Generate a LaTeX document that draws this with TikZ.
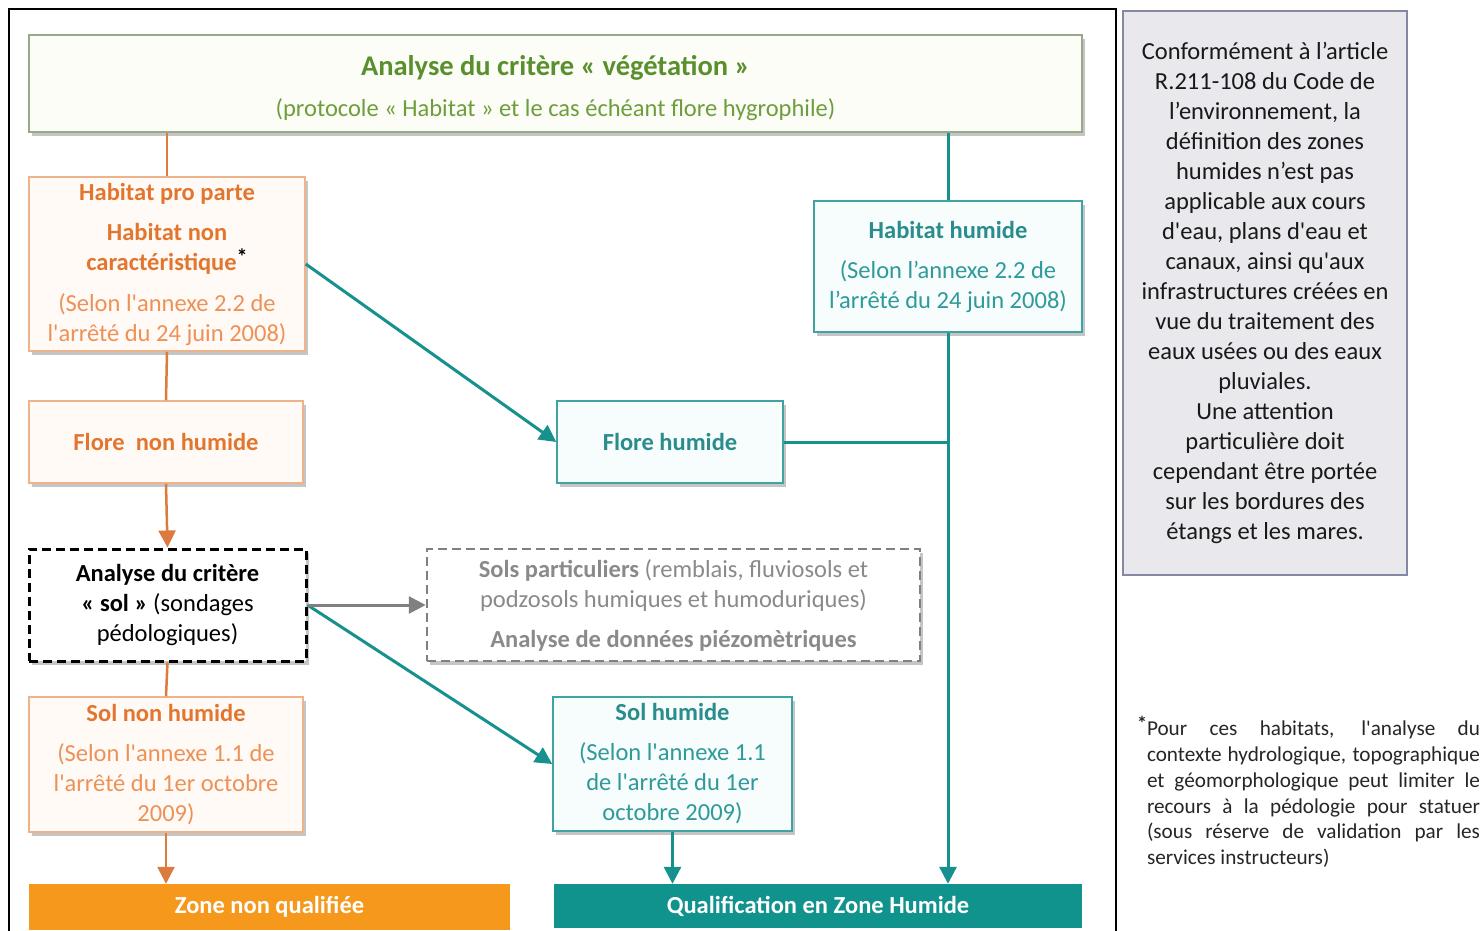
\documentclass[tikz,border=0pt]{standalone}
\usepackage{fontspec}
\setmainfont{Carlito}
\usetikzlibrary{arrows.meta,shadows}
\definecolor{vegD}{HTML}{5A8F2E}
\definecolor{vegL}{HTML}{6E9E3C}
\definecolor{vegB}{HTML}{9AA88A}
\definecolor{vegF}{HTML}{FBFDF6}
\definecolor{oText}{HTML}{E2762F}
\definecolor{oLight}{HTML}{EE9157}
\definecolor{oBorder}{HTML}{EDB48C}
\definecolor{oFill}{HTML}{FFFAF6}
\definecolor{oLine}{HTML}{DD7A3E}
\definecolor{zoneO}{HTML}{F5981C}
\definecolor{tText}{HTML}{2A8C8C}
\definecolor{tLight}{HTML}{2E9A9A}
\definecolor{tBorder}{HTML}{3FA3A3}
\definecolor{tFill}{HTML}{F7FCFC}
\definecolor{tLine}{HTML}{16918E}
\definecolor{qualT}{HTML}{10928D}
\definecolor{gText}{HTML}{8A8A8A}
\definecolor{gLine}{HTML}{808080}
\definecolor{noteF}{HTML}{E9E8EC}
\definecolor{noteB}{HTML}{8488A4}
\newcommand{\sq}{\textquotesingle}
\newcommand{\bigast}{\raisebox{6pt}{\fontsize{22}{22}\selectfont\bfseries\color{black}*}}
\tikzset{
  basebox/.style={rectangle, inner sep=0pt, align=center,
    font=\fontsize{24.5}{30}\selectfont,
    drop shadow={shadow xshift=2.5pt, shadow yshift=-3.5pt, opacity=0.45}},
  vegbox/.style={basebox, draw=vegB, line width=1.5pt, fill=vegF},
  obox/.style={basebox, draw=oBorder, line width=1.5pt, fill=oFill, text=oText},
  tbox/.style={basebox, draw=tBorder, line width=1.5pt, fill=tFill, text=tText},
  solbox/.style={basebox, draw=black, line width=3pt, dash pattern=on 9pt off 5pt, fill=white, text=black},
  partbox/.style={basebox, draw=gLine, line width=2.5pt, dash pattern=on 9pt off 5pt, fill=white, text=gText},
  bar/.style={rectangle, inner sep=0pt, text=white, font=\fontsize{24.5}{30}\selectfont\bfseries},
  oline/.style={draw=oLine, line width=2.5pt},
  tline/.style={draw=tLine, line width=3pt},
  gline/.style={draw=gLine, line width=3pt},
  tip/.style={-{Triangle[length=17pt,width=17pt]}}
}
\begin{document}
\begin{tikzpicture}[x=1pt,y=-1pt]
\useasboundingbox (0,0) rectangle (1484,930);
\fill[white] (0,0) rectangle (1484,930);
\draw[line width=2pt] (9,932) -- (9,9) -- (1116,9) -- (1116,932);

% top box
\node[vegbox, minimum width=1053pt, minimum height=97pt] (veg) at (555.5,83.5)
  {{\fontsize{28.5}{32}\selectfont\bfseries\color{vegD}\rule{0pt}{29pt}Analyse du critère « végétation »}\\[11pt]{\color{vegL}(protocole « Habitat » et le cas échéant flore hygrophile)}};

% left column
\node[obox, minimum width=276pt, minimum height=174pt] (hpp) at (167,264)
  {{\bfseries Habitat pro parte}\\[10pt]{\bfseries Habitat non}\\{\bfseries caractéristique}\bigast\\[11pt]{\color{oLight}(Selon l\sq annexe 2.2 de}\\{\color{oLight}l\sq arrêté du 24 juin 2008)}};
\node[obox, minimum width=274pt, minimum height=82pt] (fnh) at (166,442)
  {\bfseries Flore\ \ non humide};
\node[solbox, minimum width=277pt, minimum height=112pt] (sol) at (167.5,605)
  {{\bfseries Analyse du critère}\\{\bfseries « sol »} (sondages\\pédologiques)};
\node[obox, minimum width=274pt, minimum height=135pt] (snh) at (166,764.5)
  {{\bfseries Sol non humide}\\[10pt]{\color{oLight}(Selon l\sq annexe 1.1 de}\\{\color{oLight}l\sq arrêté du 1er octobre}\\{\color{oLight}2009)}};
\node[bar, fill=zoneO, minimum width=481pt, minimum height=46pt] (zone) at (269.5,907) {Zone non qualifiée};

% middle / right column
\node[tbox, minimum width=268pt, minimum height=131pt] (hh) at (948,266.5)
  {{\bfseries Habitat humide}\\[10pt]{\color{tLight}(Selon l’annexe 2.2 de}\\{\color{tLight}l’arrêté du 24 juin 2008)}};
\node[tbox, minimum width=226pt, minimum height=82pt] (fh) at (670,442)
  {\bfseries Flore humide};
\node[partbox, minimum width=493pt, minimum height=112pt] (part) at (673.5,605)
  {{\bfseries Sols particuliers} (remblais, fluviosols et\\podzosols humiques et humoduriques)\\[10pt]{\bfseries Analyse de données piézomètriques}};
\node[tbox, minimum width=239pt, minimum height=134pt] (solh) at (672.5,764)
  {{\bfseries Sol humide}\\[10pt]{\color{tLight}(Selon l\sq annexe 1.1}\\{\color{tLight}de l\sq arrêté du 1er}\\{\color{tLight}octobre 2009)}};
\node[bar, fill=qualT, minimum width=528pt, minimum height=44pt] (qual) at (818,906) {Qualification en Zone Humide};

% side note
\node[rectangle, draw=noteB, line width=1.5pt, fill=noteF, inner sep=0pt, minimum width=284pt, minimum height=564pt, align=center, text=black!90, font=\fontsize{24.5}{30}\selectfont] (note) at (1265,293)
  {Conformément à l’article\\R.211-108 du Code de\\l’environnement, la\\définition des zones\\humides n’est pas\\applicable aux cours\\d\sq eau, plans d\sq eau et\\canaux, ainsi qu\sq aux\\infrastructures créées en\\vue du traitement des\\eaux usées ou des eaux\\pluviales.\\Une attention\\particulière doit\\cependant être portée\\sur les bordures des\\étangs et les mares.};

% footnote
\node[inner sep=0pt, text width=333pt, align=justify, text=black!85, font=\fontsize{21.2}{25.8}\selectfont] (foot) at (1313.5,792)
  {\llap{\raisebox{5pt}{\fontsize{20}{20}\selectfont\bfseries *}}Pour ces habitats, l\sq analyse du\linebreak contexte hydrologique, topographique\linebreak et géomorphologique peut limiter le\linebreak recours à la pédologie pour statuer\linebreak (sous réserve de validation par les\linebreak services instructeurs)};

% connectors
\draw[oline] (hpp.north |- veg.south) -- (hpp.north);
\draw[oline] (hpp.south) -- (fnh.north);
\draw[oline, tip] (fnh.south) -- (sol.north);
\draw[oline] (sol.south) -- (snh.north);
\draw[oline, tip] (snh.south) -- (snh.south |- zone.north);

\draw[tline] (hh.north |- veg.south) -- (hh.north);
\draw[tline, tip] (hh.south) -- (hh.south |- qual.north);
\draw[tline] (fh.east) -- (hh.south |- fh.east);
\draw[tline, tip] (hpp.east) -- (fh.west);
\draw[tline, tip] (sol.east) -- (solh.west);
\draw[tline, tip] (solh.south) -- (solh.south |- qual.north);
\draw[gline, tip] (sol.east) -- (part.west);
\end{tikzpicture}
\end{document}
